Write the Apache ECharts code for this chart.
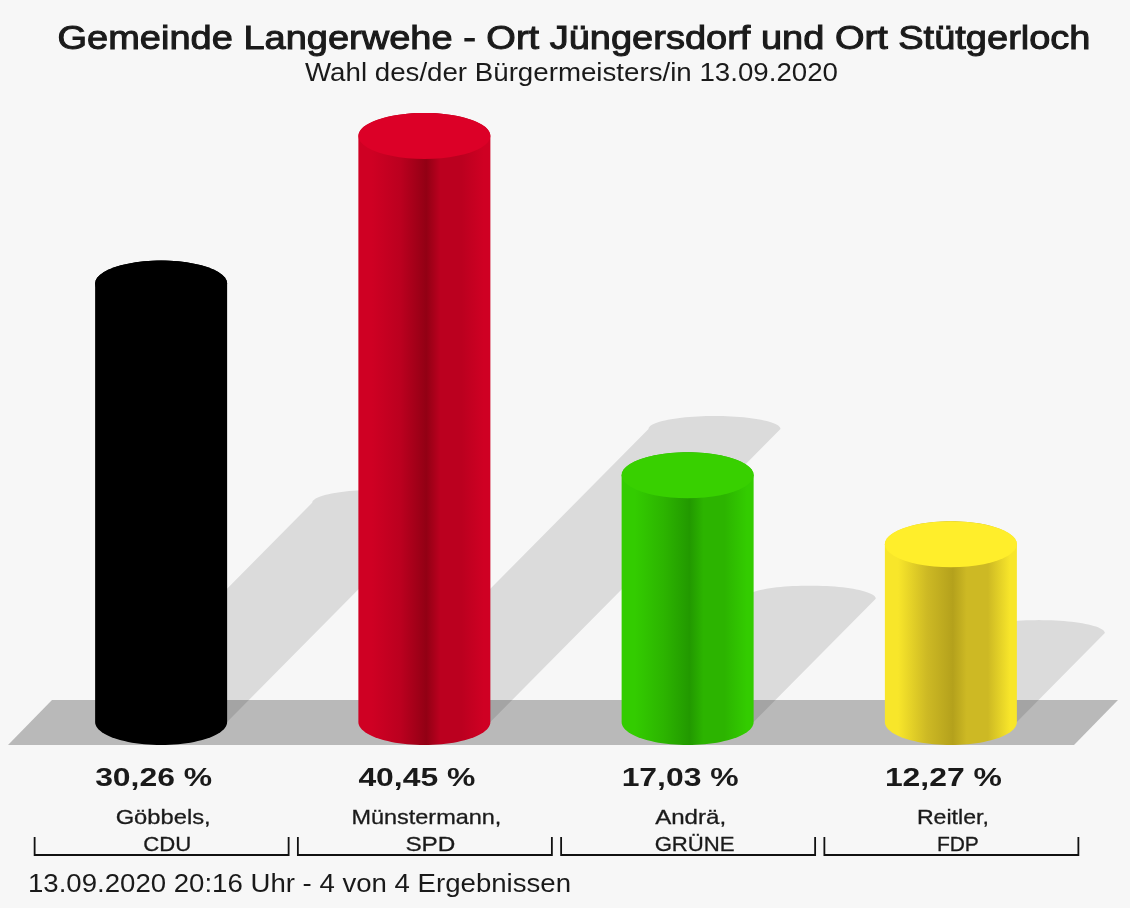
<!DOCTYPE html>
<html>
<head>
<meta charset="utf-8">
<style>html,body{margin:0;padding:0;background:#f7f7f7}#c{width:1130px;height:908px}</style>
<script src="https://cdn.jsdelivr.net/npm/echarts@6/dist/echarts.min.js"></script>
</head>
<body>
<div id="c"></div>
<script>
const titleText = 'Gemeinde Langerwehe - Ort Jüngersdorf und Ort Stütgerloch';
const subtitleText = 'Wahl des/der Bürgermeisters/in 13.09.2020';
const footerText = '13.09.2020 20:16 Uhr - 4 von 4 Ergebnissen';
const candidates = ['Göbbels,', 'Münstermann,', 'Andrä,', 'Reitler,'];
const parties = ['CDU', 'SPD', 'GRÜNE', 'FDP'];
const shares = [30.26, 40.45, 17.03, 12.27];
const shareLabels = ['30,26 %', '40,45 %', '17,03 %', '12,27 %'];
const topColors = ['#000000', '#dc0027', '#38d000', '#ffee2b'];
const edgeColors = ['#000000', '#cf0023', '#33cc00', '#f8e62a'];
const midColors = ['#000000', '#bb001f', '#2cb400', '#cdb924'];
const darkColors = ['#000000', '#920014', '#229900', '#b4a11c'];

const FONT = '"Liberation Sans", Arial, sans-serif';
const ctx = document.createElement('canvas').getContext('2d');
function fitScale(text, font, target) {
  ctx.font = font;
  return target / ctx.measureText(text).width;
}
function textEl(text, x, y, font, width, align, stroke) {
  const el = {
    type: 'text', x: x, y: y, scaleX: fitScale(text, font, width),
    style: { text: text, font: font, fill: '#1a1a1a', textAlign: align || 'center', textVerticalAlign: 'middle' }
  };
  if (stroke) { el.style.stroke = '#1a1a1a'; el.style.lineWidth = stroke; }
  return el;
}
const RX = 66, RY = 23;
function arcPts(cx, cy, rx, ry, a0, a1) {
  const pts = [], n = 48;
  for (let i = 0; i <= n; i++) {
    const a = a0 + (a1 - a0) * i / n;
    pts.push([cx + rx * Math.cos(a), cy + ry * Math.sin(a)]);
  }
  return pts;
}
const chart = echarts.init(document.getElementById('c'), null, { renderer: 'canvas' });
const catData = candidates.map((c, i) => [i, shares[i]]);
chart.setOption({
  backgroundColor: '#f7f7f7',
  animation: false,
  grid: { left: 29.5, width: 1053, top: 70, height: 652 },
  xAxis: { type: 'category', data: parties, show: false },
  yAxis: { type: 'value', min: 0, max: 45, show: false },
  graphic: [
    { type: 'polygon', z: 0, shape: { points: [[8, 745], [52, 700], [1118, 700], [1074, 745]] }, style: { fill: '#b9b9b9' } },
    Object.assign(textEl(titleText, 574, 39.5, '33px ' + FONT, 1033, 'center', 1), { z: 5 }),
    Object.assign(textEl(subtitleText, 571.5, 74.5, '25px ' + FONT, 533), { z: 5 }),
    Object.assign(textEl(footerText, 28, 885.5, '25px ' + FONT, 543, 'left'), { z: 5 })
  ],
  series: [
    {
      name: 'shadow', type: 'custom', z: 1, silent: true, data: catData, clip: false,
      renderItem: function (params, api) {
        const p0 = api.coord([api.value(0), 0]);
        const p1 = api.coord([api.value(0), api.value(1)]);
        const h = p0[1] - p1[1];
        const tx = p0[0] + 0.495 * h, ty = p0[1] - 0.5 * h;
        const pts = [[p0[0] - RX, p0[1]]]
          .concat(arcPts(tx, ty, RX, 13, Math.PI, 2 * Math.PI))
          .concat([[p0[0] + RX, p0[1]]]);
        return { type: 'polygon', shape: { points: pts }, style: { fill: 'rgba(0,0,0,0.11)' } };
      }
    },
    {
      name: 'Stimmenanteil', type: 'custom', z: 3, silent: true, data: catData, clip: false,
      renderItem: function (params, api) {
        const i = params.dataIndex;
        const p0 = api.coord([api.value(0), 0]);
        const p1 = api.coord([api.value(0), api.value(1)]);
        const cx = p0[0];
        const body = arcPts(cx, p0[1], RX, RY, 0, Math.PI).concat(arcPts(cx, p1[1], RX, RY, Math.PI, 2 * Math.PI));
        const e = edgeColors[i], m = midColors[i], d = darkColors[i];
        const grad = new echarts.graphic.LinearGradient(0, 0, 1, 0, [
          { offset: 0, color: e }, { offset: 0.1, color: e }, { offset: 0.32, color: m },
          { offset: 0.515, color: d }, { offset: 0.62, color: m }, { offset: 0.78, color: m }, { offset: 0.95, color: e }, { offset: 1, color: e }
        ]);
        return {
          type: 'group',
          children: [
            { type: 'polygon', shape: { points: body }, style: { fill: grad } },
            { type: 'polygon', shape: { points: arcPts(cx, p1[1], RX, RY, 0, 2 * Math.PI) }, style: { fill: topColors[i] } }
          ]
        };
      }
    },
    {
      name: 'labels', type: 'custom', z: 4, silent: true, data: catData, clip: false,
      renderItem: function (params, api) {
        const i = params.dataIndex;
        const p0 = api.coord([api.value(0), 0]);
        const cx = p0[0];
        const y0 = p0[1];
        const bl = cx - 126.5, br = cx + 127.5, bt = y0 + 115, bb = y0 + 133;
        const lw = [95, 150, 71, 72][i], pw = [48, 50, 80, 42][i];
        const lc = [2, 2, 3, 2][i], pc = [6, 6, 7, 7][i];
        return {
          type: 'group',
          children: [
            textEl(shareLabels[i], cx - RX, y0 + 56.5, 'bold 26px ' + FONT, 117, 'left'),
            textEl(candidates[i], cx + lc, y0 + 96, '21px ' + FONT, lw, 'center', 0.3),
            textEl(parties[i], cx + pc, y0 + 123, '21px ' + FONT, pw, 'center', 0.3),
            { type: 'polyline', shape: { points: [[bl, bt], [bl, bb], [br, bb], [br, bt]] },
              style: { stroke: '#111111', lineWidth: 1.8, fill: 'none' } }
          ]
        };
      }
    }
  ]
});
</script>
</body>
</html>
